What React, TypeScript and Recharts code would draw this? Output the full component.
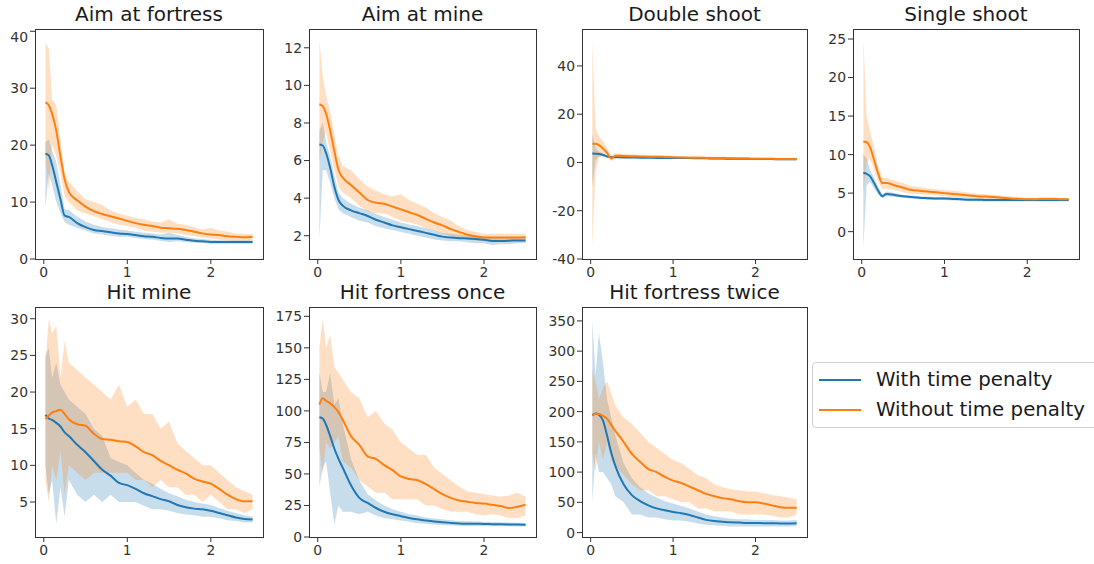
import { ComposedChart, Area, Line, XAxis, YAxis } from "recharts";

const BLUE = "#1f77b4";
const ORANGE = "#ff7f0e";

// shared time axis (x)
const X = [0.02, 0.06, 0.1, 0.15, 0.2, 0.25, 0.3, 0.4, 0.5, 0.6, 0.7, 0.8, 0.9, 1.0, 1.1, 1.2, 1.3, 1.4, 1.5, 1.6, 1.7, 1.8, 1.9, 2.0, 2.1, 2.2, 2.3, 2.4, 2.5];
const X_TICKS = [0, 1, 2];

// Aim at fortress
const aimFortressWith = [18.5, 18.2, 16.5, 13.5, 10.5, 7.6, 7.4, 6.3, 5.6, 5.1, 4.9, 4.7, 4.5, 4.4, 4.2, 4.0, 3.9, 3.7, 3.6, 3.6, 3.4, 3.2, 3.1, 3.0, 3.0, 3.0, 3.0, 3.0, 3.0];
const aimFortressWithLo = [9, 15, 13, 10, 8, 6.5, 6, 5.5, 5, 4.5, 4.3, 4.1, 3.9, 3.9, 3.7, 3.5, 3.4, 3.2, 3.0, 3.1, 3.0, 2.9, 2.8, 2.7, 2.7, 2.7, 2.7, 2.7, 2.7];
const aimFortressWithHi = [20.5, 21, 19, 17, 13, 8.8, 8.6, 7.4, 6.6, 6.0, 5.6, 5.4, 5.2, 5.0, 4.8, 4.6, 4.5, 4.3, 4.6, 4.2, 3.9, 3.6, 3.5, 3.4, 3.3, 3.3, 3.3, 3.3, 3.3];
const aimFortressWithout = [27.5, 27.0, 25.5, 22.5, 18.0, 14.0, 11.8, 10.3, 9.2, 8.4, 7.9, 7.5, 7.1, 6.7, 6.3, 6.0, 5.8, 5.5, 5.4, 5.3, 5.1, 4.8, 4.5, 4.3, 4.2, 4.0, 3.9, 3.8, 3.9];
const aimFortressWithoutLo = [18, 12, 20, 18, 15, 11, 10, 8.5, 8, 7.5, 7, 6.5, 6, 5.8, 5.5, 5, 4.8, 4.6, 4.6, 4.5, 4.2, 4.0, 3.8, 3.6, 3.4, 3.3, 3.2, 3.2, 3.3];
const aimFortressWithoutHi = [38, 37, 28, 27, 21, 15, 13.5, 12, 10.5, 10, 9.5, 8.5, 8, 7.6, 7.2, 7, 6.6, 6.4, 7.0, 6.2, 6.0, 5.6, 5.2, 5.5, 5.0, 4.8, 4.5, 4.4, 4.4];

// Aim at mine
const aimMineWith = [6.85, 6.8, 6.4, 5.6, 4.6, 3.9, 3.6, 3.35, 3.2, 3.05, 2.85, 2.7, 2.55, 2.45, 2.35, 2.25, 2.15, 2.05, 1.95, 1.9, 1.87, 1.85, 1.82, 1.78, 1.72, 1.72, 1.73, 1.75, 1.75];
const aimMineWithLo = [1.8, 5.5, 5.5, 4.8, 4.0, 3.4, 3.2, 3.0, 2.8, 2.7, 2.5, 2.4, 2.3, 2.2, 2.1, 2.0, 1.9, 1.8, 1.75, 1.7, 1.7, 1.65, 1.6, 1.6, 1.5, 1.55, 1.55, 1.6, 1.6];
const aimMineWithHi = [7.6, 8.0, 7.0, 6.2, 5.2, 4.3, 4.0, 3.7, 3.5, 3.35, 3.15, 3.0, 2.85, 2.7, 2.6, 2.5, 2.4, 2.3, 2.15, 2.1, 2.05, 2.0, 2.0, 1.95, 1.9, 1.9, 1.9, 1.9, 1.9];
const aimMineWithout = [9.0, 8.9, 8.5, 7.6, 6.5, 5.5, 5.1, 4.7, 4.3, 3.9, 3.75, 3.7, 3.55, 3.4, 3.25, 3.1, 2.9, 2.7, 2.55, 2.35, 2.2, 2.05, 1.97, 1.9, 1.9, 1.9, 1.9, 1.9, 1.92];
const aimMineWithoutLo = [6.0, 7.0, 7.5, 6.5, 5.5, 4.6, 4.3, 4.0, 3.6, 3.3, 3.2, 3.2, 3.0, 2.8, 2.7, 2.6, 2.4, 2.3, 2.1, 2.0, 1.9, 1.8, 1.75, 1.7, 1.7, 1.7, 1.7, 1.75, 1.75];
const aimMineWithoutHi = [12.4, 10.5, 9.5, 8.6, 7.4, 6.2, 5.7, 5.5, 5.0, 4.6, 4.4, 4.2, 4.1, 4.2, 3.9, 3.7, 3.5, 3.2, 3.0, 2.8, 2.5, 2.3, 2.2, 2.1, 2.1, 2.1, 2.1, 2.1, 2.1];

// Double shoot
const doubleWith = [3.7, 3.6, 3.5, 3.1, 2.5, 2.2, 2.2, 2.1, 2.1, 2.0, 2.0, 1.9, 1.9, 1.9, 1.8, 1.8, 1.7, 1.7, 1.6, 1.6, 1.5, 1.5, 1.5, 1.4, 1.4, 1.4, 1.3, 1.3, 1.3];
const doubleWithLo = [-10, 1, 2.5, 2.5, 2.0, 1.8, 1.9, 1.8, 1.8, 1.7, 1.7, 1.6, 1.6, 1.6, 1.5, 1.5, 1.4, 1.4, 1.3, 1.3, 1.2, 1.2, 1.2, 1.1, 1.1, 1.1, 1.0, 1.0, 1.0];
const doubleWithHi = [12, 6, 4.5, 3.7, 3.0, 2.6, 2.5, 2.4, 2.4, 2.3, 2.3, 2.2, 2.2, 2.2, 2.1, 2.1, 2.0, 2.0, 1.9, 1.9, 1.8, 1.8, 1.8, 1.7, 1.7, 1.7, 1.6, 1.6, 1.6];
const doubleWithout = [7.8, 7.8, 7.2, 5.8, 4.0, 1.6, 2.8, 2.7, 2.6, 2.5, 2.4, 2.4, 2.3, 2.2, 2.1, 2.0, 2.0, 1.9, 1.8, 1.8, 1.7, 1.6, 1.6, 1.5, 1.5, 1.5, 1.4, 1.4, 1.4];
const doubleWithoutLo = [-35, -4, 2, 3, 2.5, 0.5, 2.0, 2.0, 2.0, 1.9, 1.8, 1.8, 1.7, 1.6, 1.5, 1.4, 1.4, 1.3, 1.2, 1.2, 1.1, 1.0, 1.0, 0.9, 0.9, 0.9, 0.8, 0.8, 0.8];
const doubleWithoutHi = [50, 14, 11, 9, 6, 3, 3.8, 3.5, 3.3, 3.2, 3.1, 3.0, 2.9, 2.8, 2.7, 2.6, 2.6, 2.5, 2.4, 2.4, 2.3, 2.2, 2.2, 2.1, 2.1, 2.1, 2.0, 2.0, 2.0];

// Single shoot
const singleWith = [7.6, 7.5, 7.2, 6.3, 5.3, 4.6, 4.9, 4.75, 4.6, 4.5, 4.4, 4.35, 4.3, 4.3, 4.25, 4.2, 4.15, 4.15, 4.1, 4.1, 4.1, 4.1, 4.1, 4.1, 4.1, 4.1, 4.1, 4.1, 4.1];
const singleWithLo = [-2, 6, 6.5, 5.6, 4.8, 4.3, 4.6, 4.5, 4.4, 4.3, 4.2, 4.15, 4.1, 4.1, 4.05, 4.0, 3.95, 3.95, 3.9, 3.9, 3.9, 3.9, 3.9, 3.9, 3.9, 3.9, 3.9, 3.9, 3.9];
const singleWithHi = [10, 9.5, 8, 7, 5.8, 4.9, 5.2, 5.0, 4.8, 4.7, 4.6, 4.55, 4.5, 4.5, 4.45, 4.4, 4.35, 4.35, 4.3, 4.3, 4.3, 4.3, 4.3, 4.3, 4.3, 4.3, 4.3, 4.3, 4.3];
const singleWithout = [11.7, 11.6, 11.0, 9.3, 7.5, 6.3, 6.3, 6.0, 5.7, 5.4, 5.3, 5.2, 5.1, 5.0, 4.9, 4.8, 4.7, 4.6, 4.55, 4.5, 4.4, 4.3, 4.25, 4.2, 4.2, 4.25, 4.25, 4.2, 4.2];
const singleWithoutLo = [5, 9, 9.5, 8, 6.5, 5.5, 5.6, 5.4, 5.1, 4.9, 4.9, 4.8, 4.7, 4.6, 4.5, 4.4, 4.35, 4.3, 4.25, 4.2, 4.1, 4.05, 4.0, 4.0, 4.0, 4.05, 4.05, 4.0, 4.0];
const singleWithoutHi = [25, 15, 13, 11, 8.5, 7, 7, 6.6, 6.3, 5.9, 5.8, 5.6, 5.5, 5.4, 5.3, 5.2, 5.05, 4.9, 4.85, 4.8, 4.7, 4.55, 4.5, 4.4, 4.4, 4.45, 4.45, 4.4, 4.4];

// Hit mine
const hitMineWith = [16.9, 16.4, 16.2, 15.8, 15.3, 14.5, 14.0, 12.8, 11.8, 10.6, 9.4, 8.6, 7.6, 7.3, 6.8, 6.2, 5.8, 5.4, 5.1, 4.6, 4.3, 4.1, 4.0, 3.8, 3.5, 3.2, 2.9, 2.7, 2.6];
const hitMineWithLo = [10, 6, 8, 2, 7, 3, 8, 6, 5, 6, 5, 6, 5, 5, 5, 4.5, 4, 4, 3.8, 3.5, 3.3, 3.2, 3, 3, 2.8, 2.5, 2.4, 2.2, 2.2];
const hitMineWithHi = [25, 26, 22, 24, 21, 20, 19, 18, 17, 15, 14, 11, 10.5, 10, 9, 8, 7.5, 6.8, 6.2, 5.8, 5.3, 5, 4.8, 4.6, 4.2, 3.8, 3.5, 3.2, 3.0];
const hitMineWithout = [16.3, 16.8, 17.2, 17.4, 17.6, 17.0, 16.3, 15.6, 15.4, 14.3, 13.6, 13.5, 13.3, 13.2, 12.6, 11.8, 11.4, 10.6, 10.0, 9.4, 8.9, 8.2, 7.8, 7.5, 6.8, 6.0, 5.4, 5.1, 5.1];
const hitMineWithoutLo = [8, 5, 10, 8, 12, 6, 10, 9, 8, 9, 9, 9, 9, 9, 8, 8, 7, 8, 7, 7, 6, 6, 5, 6, 5, 4, 4, 3.5, 4];
const hitMineWithoutHi = [24, 30, 28, 29, 22, 27, 24, 23, 22, 21, 20, 19, 21, 18, 19, 17, 17, 15, 16, 13, 12, 11, 10, 10, 9, 8, 7, 6.5, 6];

// Hit fortress once
const onceWith = [95, 94, 89, 80, 70, 62, 55, 41, 31, 27, 23, 20, 18, 16.5, 15, 14, 13, 12.3, 11.7, 11.2, 10.8, 10.6, 10.5, 10.4, 10.2, 10.1, 10.0, 9.9, 9.8];
const onceWithLo = [40, 55, 60, 35, 10, 25, 20, 20, 18, 20, 17, 15, 14, 13, 12, 11, 10.5, 10, 9.5, 9.2, 9, 8.8, 8.8, 8.8, 8.6, 8.5, 8.5, 8.4, 8.4];
const onceWithHi = [130, 115, 115, 130, 105, 110, 90, 62, 45, 34, 29, 25, 22, 20, 18, 17, 15.5, 14.6, 14, 13.2, 12.6, 12.4, 12.2, 12, 11.8, 11.7, 11.5, 11.4, 11.2];
const onceWithout = [105, 110, 108, 106, 103, 99, 93, 80, 73, 64, 62, 57, 53, 48, 46, 45, 42, 38, 34, 31, 29, 28, 27, 26.5, 25.5, 24.5, 23, 24, 25.5];
const onceWithoutLo = [70, 50, 75, 70, 75, 80, 60, 55, 45, 40, 35, 35, 30, 30, 30, 30, 25, 25, 22, 20, 20, 20, 18, 17, 18, 17, 15, 15, 17];
const onceWithoutHi = [150, 173, 150, 160, 135, 130, 125, 115, 110, 95, 100, 90, 85, 75, 70, 65, 65, 55, 50, 45, 40, 36, 35, 34, 33, 32, 33, 35, 32];

// Hit fortress twice
const twiceWith = [194, 197, 195, 185, 160, 132, 110, 80, 62, 52, 45, 40, 37, 34, 32, 29, 25, 21, 19, 18, 17, 16.5, 16, 16, 15.5, 15.5, 15, 15, 15.5];
const twiceWithLo = [50, 130, 100, 100, 90, 80, 60, 50, 30, 30, 25, 25, 22, 20, 20, 18, 15, 13, 12, 11, 10, 10, 10, 10, 10, 10, 10, 10, 11];
const twiceWithHi = [350, 260, 330, 280, 220, 190, 160, 115, 90, 75, 65, 58, 52, 48, 44, 40, 35, 30, 27, 25, 23, 22, 22, 21, 21, 21, 20, 20, 21];
const twiceWithout = [195, 196, 196, 193, 188, 178, 168, 150, 130, 117, 105, 100, 92, 86, 82, 76, 70, 64, 60, 57, 55, 52, 50, 50, 48, 45, 42, 41, 41];
const twiceWithoutLo = [130, 100, 150, 120, 150, 120, 110, 95, 80, 70, 70, 60, 60, 55, 50, 50, 40, 40, 35, 35, 35, 30, 30, 30, 30, 28, 25, 25, 30];
const twiceWithoutHi = [270, 250, 220, 240, 250, 230, 210, 190, 180, 165, 150, 140, 130, 120, 115, 105, 95, 90, 80, 75, 72, 70, 68, 68, 65, 62, 60, 58, 55];

const panels = [
  { title: "Aim at fortress", left: 35, top: 29, width: 228, domain: [0, 40.4], ticks: [0, 10, 20, 30, 40],
    w: aimFortressWith, wLo: aimFortressWithLo, wHi: aimFortressWithHi, o: aimFortressWithout, oLo: aimFortressWithoutLo, oHi: aimFortressWithoutHi },
  { title: "Aim at mine", left: 309, top: 29, width: 227, domain: [0.76, 13.0], ticks: [2, 4, 6, 8, 10, 12],
    w: aimMineWith, wLo: aimMineWithLo, wHi: aimMineWithHi, o: aimMineWithout, oLo: aimMineWithoutLo, oHi: aimMineWithoutHi },
  { title: "Double shoot", left: 582, top: 29, width: 225, domain: [-40, 55.3], ticks: [-40, -20, 0, 20, 40],
    w: doubleWith, wLo: doubleWithLo, wHi: doubleWithHi, o: doubleWithout, oLo: doubleWithoutLo, oHi: doubleWithoutHi },
  { title: "Single shoot", left: 853, top: 29, width: 226, domain: [-3.55, 26.3], ticks: [0, 5, 10, 15, 20, 25],
    w: singleWith, wLo: singleWithLo, wHi: singleWithHi, o: singleWithout, oLo: singleWithoutLo, oHi: singleWithoutHi },
  { title: "Hit mine", left: 35, top: 307, width: 228, domain: [0.23, 31.6], ticks: [5, 10, 15, 20, 25, 30],
    w: hitMineWith, wLo: hitMineWithLo, wHi: hitMineWithHi, o: hitMineWithout, oLo: hitMineWithoutLo, oHi: hitMineWithoutHi },
  { title: "Hit fortress once", left: 309, top: 307, width: 227, domain: [0, 182.4], ticks: [0, 25, 50, 75, 100, 125, 150, 175],
    w: onceWith, wLo: onceWithLo, wHi: onceWithHi, o: onceWithout, oLo: onceWithoutLo, oHi: onceWithoutHi },
  { title: "Hit fortress twice", left: 582, top: 307, width: 225, domain: [-7.3, 373], ticks: [0, 50, 100, 150, 200, 250, 300, 350],
    w: twiceWith, wLo: twiceWithLo, wHi: twiceWithHi, o: twiceWithout, oLo: twiceWithoutLo, oHi: twiceWithoutHi },
];

const PLOT_H = 230;
const AXIS_W = 45;
const FONT = "'DejaVu Sans', sans-serif";
const tickStyle = { fill: "#333", fontSize: 13.9, fontFamily: FONT };

const Panel = ({ p }) => {
  const data = X.map((x, i) => ({
    x,
    wMean: p.w[i],
    wBand: [p.wLo[i], p.wHi[i]],
    oMean: p.o[i],
    oBand: [p.oLo[i], p.oHi[i]],
  }));
  return (
    <>
      <div style={{ position: "absolute", left: p.left, top: p.top - 25, width: p.width, textAlign: "center",
        fontSize: 20, lineHeight: "20px", fontFamily: FONT, color: "#1a1a1a", whiteSpace: "nowrap" }}>
        {p.title}
      </div>
      <div style={{ position: "absolute", left: p.left - AXIS_W, top: p.top }}>
        <ComposedChart width={p.width + AXIS_W} height={PLOT_H + 25} data={data}
          margin={{ top: 0, right: 0, bottom: 0, left: 0 }}>
          <XAxis type="number" dataKey="x" domain={[-0.105, 2.625]} ticks={X_TICKS} allowDataOverflow
            axisLine={false} tickLine={{ stroke: "#333" }} tickSize={5} tickMargin={3} height={25} tick={tickStyle} />
          <YAxis type="number" domain={p.domain} ticks={p.ticks} allowDataOverflow width={AXIS_W}
            axisLine={false} tickLine={{ stroke: "#333" }} tickSize={5} tickMargin={2} tick={tickStyle} />
          <Area dataKey="wBand" type="linear" stroke="none" fill={BLUE} fillOpacity={0.25} isAnimationActive={false} />
          <Line dataKey="wMean" type="monotone" stroke={BLUE} strokeWidth={2} dot={false} isAnimationActive={false} />
          <Area dataKey="oBand" type="linear" stroke="none" fill={ORANGE} fillOpacity={0.25} isAnimationActive={false} />
          <Line dataKey="oMean" type="monotone" stroke={ORANGE} strokeWidth={2} dot={false} isAnimationActive={false} />
        </ComposedChart>
      </div>
      <div style={{ position: "absolute", left: p.left, top: p.top, width: p.width + 1, height: PLOT_H + 1,
        border: "1px solid #333", boxSizing: "border-box", pointerEvents: "none" }} />
    </>
  );
};

const legendItems = [
  { label: "With time penalty", color: BLUE },
  { label: "Without time penalty", color: ORANGE },
];

export default function App() {
  return (
    <div style={{ position: "absolute", left: 0, top: 0, width: 1094, height: 564, overflow: "hidden", background: "#fff" }}>
      {panels.map((p) => <Panel key={p.title} p={p} />)}
      <div style={{ position: "absolute", left: 812, top: 362, width: 292, height: 66, border: "1px solid #d0d0d0",
        borderRadius: 4, boxSizing: "border-box", fontFamily: FONT, fontSize: 19.8, color: "#1a1a1a" }}>
        {legendItems.map((it, i) => (
          <div key={it.label} style={{ position: "absolute", left: 0, top: 4 + i * 29.5, height: 26, width: 290 }}>
            <div style={{ position: "absolute", left: 6, top: 12, width: 42, height: 2, background: it.color }} />
            <div style={{ position: "absolute", left: 63, top: 1, lineHeight: "24px", whiteSpace: "nowrap" }}>{it.label}</div>
          </div>
        ))}
      </div>
    </div>
  );
}
